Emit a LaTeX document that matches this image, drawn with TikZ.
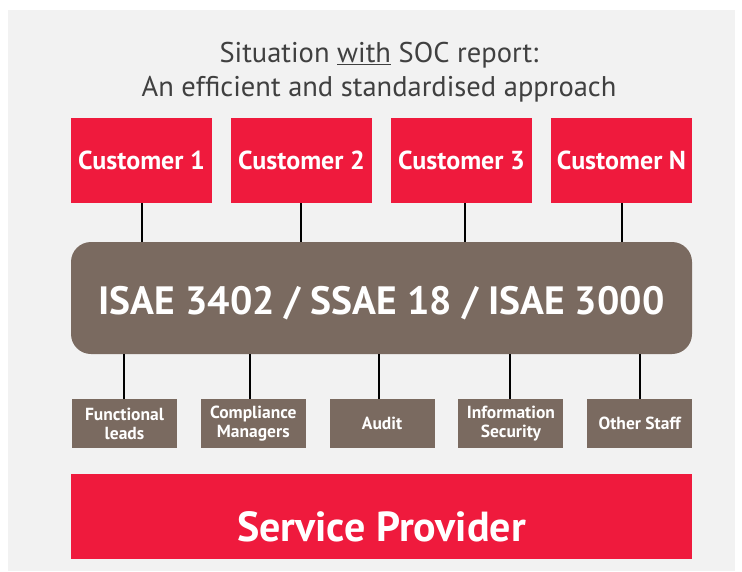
\documentclass[tikz,border=0pt]{standalone}
\usepackage{fontspec}
\setmainfont{PT Sans}
\definecolor{panel}{HTML}{F2F2F2}
\definecolor{accred}{HTML}{EF1A3D}
\definecolor{taupe}{HTML}{7A6A60}
\definecolor{titlegray}{HTML}{404040}
\begin{document}
\begin{tikzpicture}[x=1pt,y=-1pt,
  redbox/.style={fill=accred,draw=none,inner sep=0pt,text=white,font=\bfseries\fontsize{26}{28}\selectfont},
  brownbox/.style={fill=taupe,draw=none,inner sep=0pt,text=white,align=center,font=\bfseries\fontsize{17.5}{19}\selectfont},
  link/.style={draw=black,line width=2pt}]
\useasboundingbox (0,0) rectangle (742,571);
\fill[white] (0,0) rectangle (742,571);
\fill[panel] (8,10) rectangle (735,571);
% title
\node[text=titlegray,align=center,font=\fontsize{28.5}{34}\selectfont,anchor=center] (title) at (379,72)
  {Situation \underline{with} SOC report:\\An efficient and standardised approach};
% customers
\foreach \i/\t in {0/1,1/2,2/3,3/N}{
  \node[redbox,minimum width=141pt,minimum height=85pt] (c\i) at ({141.5+160*\i},160.5) {Customer \t};
}
% ISAE box
\node[fill=taupe,rounded corners=20pt,minimum width=621pt,minimum height=112pt,inner sep=0pt,text height=32pt,text depth=0pt,text=white,font=\bfseries\fontsize{39.5}{42}\selectfont] (isae) at (381.5,298) {ISAE 3402 / SSAE 18 / ISAE 3000};
% staff boxes
\foreach \i/\t in {0/{Functional\\leads},1/{Compliance\\Managers},2/{Audit},3/{Information\\Security},4/{Other Staff}}{
  \node[brownbox,minimum width=105pt,minimum height=49pt] (s\i) at ({124.5+128.8*\i},423.5) {\t};
}
% service provider
\node[fill=accred,minimum width=621pt,minimum height=85pt,inner sep=0pt,text height=50pt,text depth=0pt,text=white,font=\bfseries\fontsize{42}{44}\selectfont] (sp) at (381.5,516.5) {Service Provider};
% connectors
\foreach \i/\d in {0/0.5,1/-0.5,2/3.5,3/0.5}{ \draw[link] ([xshift=\d pt]c\i.south) -- ([xshift=\d pt]c\i.south |- isae.north); }
\foreach \i/\d in {0/-1,1/-3,2/-3,3/-1,4/0}{ \draw[link] ([xshift=\d pt]s\i.north |- isae.south) -- ([xshift=\d pt]s\i.north); }
\end{tikzpicture}
\end{document}
